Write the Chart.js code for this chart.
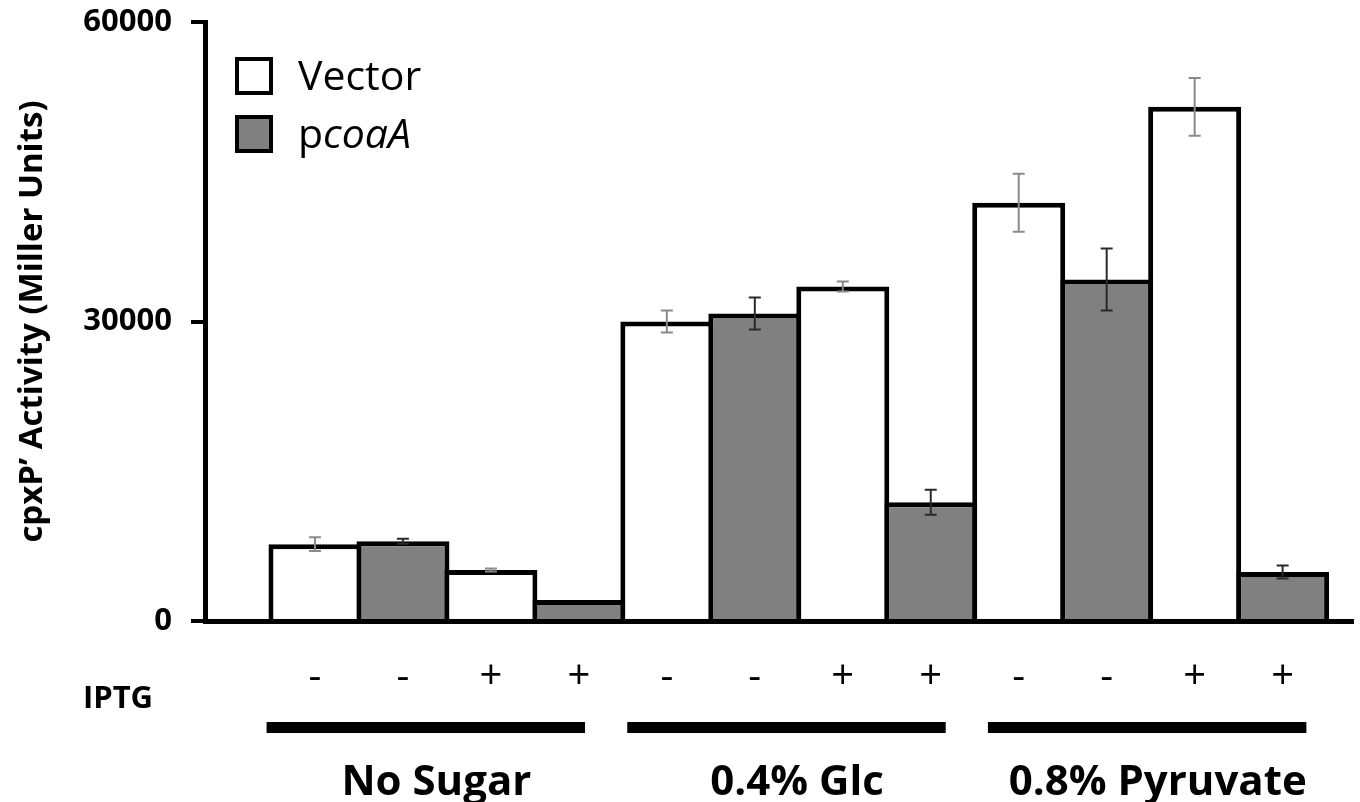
<!DOCTYPE html>
<html>
<head>
<meta charset="utf-8">
<script src="https://cdn.jsdelivr.net/npm/chart.js@4/dist/chart.umd.min.js"></script>
<style>
body{margin:0;background:#fff;}
</style>
</head>
<body>
<canvas id="cpxChart" width="1360" height="802"></canvas>
<script>
// bars left to right: Vector, pcoaA, Vector, pcoaA ...
var iptgLabels = ['-','-','+','+','-','-','+','+','-','-','+','+'];
var groupNames = ['No Sugar','0.4% Glc','0.8% Pyruvate'];
var yTicks     = [0,30000,60000];

var vectorPos  = [0,2,4,6,8,10];
var vectorVals = [7700,5100,30000,33500,41900,51500];
var vectorErr  = [700,150,1100,500,2900,2900];

var coaPos  = [1,3,5,7,9,11];
var coaVals = [8000,2100,30800,11900,34200,4900];
var coaErr  = [250,0,1600,1250,3100,650];

var FONT = '"Open Sans", "Noto Sans", sans-serif';

function points(pos, vals){
  return pos.map(function(p,i){ return {x:p, y:vals[i]}; });
}

/****** error bars drawn on top of the bars ******/
var errorBars = {
  id:'errorBars',
  afterDatasetsDraw:function(chart){
    var ctx = chart.ctx, y = chart.scales.y;
    chart.data.datasets.forEach(function(ds, di){
      var meta = chart.getDatasetMeta(di);
      ctx.save();
      ctx.strokeStyle = ds.errColor;
      ctx.lineWidth = 2;
      meta.data.forEach(function(bar, i){
        var e = ds.errors[i];
        if(!e) return;
        var v = ds.data[i].y;
        var top = y.getPixelForValue(v+e), bot = y.getPixelForValue(v-e);
        ctx.beginPath();
        ctx.moveTo(bar.x, top); ctx.lineTo(bar.x, bot);
        ctx.moveTo(bar.x-6, top); ctx.lineTo(bar.x+6, top);
        ctx.moveTo(bar.x-6, bot); ctx.lineTo(bar.x+6, bot);
        ctx.stroke();
      });
      ctx.restore();
    });
  }
};

/****** IPTG row name, group bars + names, legend ******/
var annotations = {
  id:'annotations',
  afterDraw:function(chart){
    var ctx = chart.ctx, x = chart.scales.x;
    ctx.save();
    ctx.fillStyle = '#000';
    ctx.textAlign = 'center';
    ctx.textBaseline = 'alphabetic';
    ctx.font = 'bold 31px ' + FONT;
    ctx.fillText('IPTG', 118, 708);

    groupNames.forEach(function(name, g){
      var mid = g*4.1 + 1.26;
      var x1 = x.getPixelForValue(mid-1.81), x2 = x.getPixelForValue(mid+1.81);
      ctx.fillRect(x1, 722, x2-x1, 11);
      ctx.font = 'bold 42px ' + FONT;
      ctx.fillText(name, x.getPixelForValue(mid+0.12), 795);
    });

    // legend
    ctx.textAlign = 'left';
    chart.data.datasets.forEach(function(ds, i){
      var top = 59 + i*58;
      ctx.fillStyle = ds.backgroundColor;
      ctx.fillRect(237, top, 34, 34);
      ctx.lineWidth = 4;
      ctx.strokeStyle = '#000';
      ctx.strokeRect(237, top, 34, 34);
      var cx = 298;
      ctx.fillStyle = '#000';
      ds.legendParts.forEach(function(p){
        ctx.font = (p.italic ? 'italic ' : '') + '41px ' + FONT;
        ctx.fillText(p.text, cx, top+31);
        cx += ctx.measureText(p.text).width;
      });
    });
    ctx.restore();
  }
};

new Chart(document.getElementById('cpxChart'), {
  type:'bar',
  data:{
    datasets:[{
      label:'Vector',
      data:points(vectorPos, vectorVals),
      errors:vectorErr,
      errColor:'#8a8a8a',
      backgroundColor:'#ffffff',
      borderColor:'#000000',
      borderWidth:5,
      legendParts:[{text:'Vector'}]
    },{
      label:'pcoaA',
      data:points(coaPos, coaVals),
      errors:coaErr,
      errColor:'#2a2a2a',
      backgroundColor:'#808080',
      borderColor:'#000000',
      borderWidth:5,
      legendParts:[{text:'p'},{text:'coaA', italic:true}]
    }]
  },
  options:{
    responsive:false,
    animation:false,
    devicePixelRatio:1,
    layout:{padding:{top:22, right:7, left:0, bottom:0}},
    datasets:{bar:{grouped:false, categoryPercentage:1, barPercentage:1.057}},
    plugins:{legend:{display:false}, tooltip:{enabled:false}},
    scales:{
      x:{
        type:'linear', min:-1.25, max:11.8, offset:false,
        grid:{display:false, drawTicks:false, offset:false},
        border:{display:true, color:'#000', width:5, z:1},
        afterBuildTicks:function(s){ s.ticks = iptgLabels.map(function(t,i){ return {value:i}; }); },
        ticks:{autoSkip:false, maxRotation:0, padding:33, color:'#000',
               font:{family:FONT, size:40},
               callback:function(v){ return iptgLabels[v]; }},
        afterFit:function(s){ s.height = 181; s.paddingLeft = 0; s.paddingRight = 0; }
      },
      y:{
        min:0, max:60000,
        afterBuildTicks:function(s){ s.ticks = yTicks.map(function(v){ return {value:v}; }); },
        grid:{drawOnChartArea:false, drawTicks:true, tickLength:14, tickWidth:4, tickColor:'#000', color:'#000', lineWidth:4},
        border:{display:true, color:'#000', width:5},
        ticks:{padding:19, color:'#000', font:{family:FONT, size:31, weight:'bold'},
               callback:function(v){ return String(v); }},
        title:{display:true, text:'cpxP’ Activity (Miller Units)', color:'#000',
               font:{family:FONT, size:33, weight:'bold'}, padding:{top:13, bottom:0}},
        afterFit:function(s){ s.width = 205; s.paddingTop = 0; s.paddingBottom = 0; }
      }
    }
  },
  plugins:[errorBars, annotations]
});
</script>
</body>
</html>
